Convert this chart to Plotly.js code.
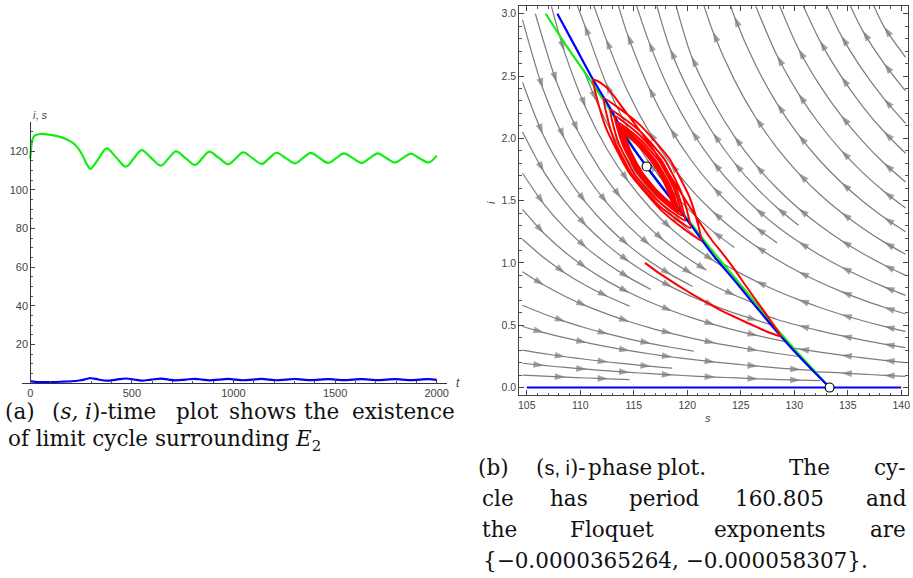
<!DOCTYPE html>
<html><head><meta charset="utf-8">
<script src="https://cdn.plot.ly/plotly-3.0.1.min.js"></script>
<style>body{margin:0;background:#fff}#chart{width:913px;height:578px}</style>
</head><body><div id="chart"></div>
<script>
// ---- panel (a): time series ----
const timeT = [0,4,10,20,48,100,150,180,210,235,255,275,290,297,336,376,423,471,510,548,595,643,680,717,764,811,846,881,928,975,1011,1048,1093,1139,1175,1212,1257,1303,1341,1380,1423,1467,1505,1544,1587,1631,1670,1710,1752,1795,1833,1872,1915,1959,2000];
const timeS = [116,121,125.5,127.8,128.8,128.3,127.2,126.0,124.2,121.5,118.2,113.8,111.3,110.7,116.0,121.4,116.6,111.9,116.2,120.5,116.4,112.4,116.1,119.8,116.3,112.8,116.2,119.7,116.4,113.1,116.2,119.3,116.3,113.3,116.2,119.1,116.3,113.6,116.3,119.0,116.4,113.8,116.3,118.8,116.3,113.8,116.3,118.8,116.4,114.0,116.3,118.6,116.3,114.0,117.6];
const timeIt = [0,25,50,100,150,200,240,270,290,300,336,376,423,471,510,548,595,643,680,717,764,811,846,881,928,975,1011,1048,1093,1139,1175,1212,1257,1303,1341,1380,1423,1467,1505,1544,1587,1631,1670,1710,1752,1795,1833,1872,1915,1959,2000];
const timeI  = [1.0,0.6,0.45,0.5,0.65,0.9,1.3,1.9,2.45,2.45,1.8,1.18,1.75,2.32,1.8,1.28,1.75,2.23,1.78,1.34,1.76,2.18,1.77,1.38,1.76,2.13,1.77,1.41,1.76,2.10,1.77,1.43,1.76,2.07,1.76,1.45,1.76,2.05,1.76,1.46,1.75,2.04,1.76,1.47,1.75,2.03,1.76,1.48,1.75,2.03,1.6];
const tTicks = [0,500,1000,1500,2000];
const yTicksA = [20,40,60,80,100,120];

// ---- panel (b): phase plot ----
const blueS = [107.86,109.5,111.2,112.8,114.33,116.2,118.5,120.5,122.39,124.5,126.5,128.76,131.0,133.3];
const blueI = [3.0,2.74,2.47,2.24,2.0,1.774,1.51,1.285,1.065,0.85,0.64,0.41,0.20,0.0];
const greenS = [106.77,108.8,110.9,112.6,114.2,116.1,118.4,120.4,122.39,124.5,126.5,128.76,131.0,133.3];
const greenI = [3.0,2.73,2.47,2.25,2.03,1.78,1.53,1.31,1.092,0.875,0.665,0.43,0.215,0.0];
const axisS = [105,140];
const axisI = [0,0];
const eqS = [116.2,133.3];
const eqI = [1.774,0.0];
const redS = [116.05,117.0,118.07,119.3,120.56,121.8,123.05,124.3,125.54,126.5,127.4,128.2,128.76,
 128.2,127.4,126.43,125.4,124.4,123.4,122.39,121.5,120.6,119.5,118.5,117.4,116.3,115.1,114.0,113.1,112.3,111.6,111.2,
 111.60,112.45,114.55,117.50,119.68,121.3,
 120.95,120.19,118.30,115.64,113.67,112.2,
 112.48,113.12,114.78,117.17,118.96,120.3,
 120.02,119.41,117.87,115.66,114.02,112.8,
 113.05,113.62,115.06,117.12,118.65,119.8,
 119.53,118.96,117.58,115.66,114.25,113.2,
 113.47,114.02,115.34,117.17,118.51,119.5,
 119.23,118.70,117.43,115.70,114.43,113.5,
 113.76,114.29,115.50,117.14,118.32,119.2,
 118.93,118.41,117.22,115.66,114.53,113.7,
 113.97,114.47,115.62,117.12,118.21,119.0,
 118.74,118.25,117.15,115.70,114.66,113.9,
 114.15,114.63,115.69,117.08,118.07,118.8,
 118.54,118.06,117.02,115.66,114.70,114.0,
 114.26,114.74,115.77,117.09,118.02,118.7,
 118.45,117.99,116.98,115.69,114.77,114.1,
 114.36,114.82,115.81,117.07,117.96,118.6,
 118.35,117.88,116.89,115.63,114.75,114.1,
 114.36,114.82,115.81,117.07];
const redI = [1.0,0.94,0.878,0.81,0.744,0.683,0.624,0.572,0.522,0.485,0.45,0.425,0.41,
 0.485,0.585,0.70,0.825,0.95,1.065,1.172,1.28,1.40,1.55,1.685,1.835,1.975,2.115,2.24,2.345,2.42,2.46,2.47,
 2.305,2.073,1.726,1.428,1.273,1.18,
 1.326,1.532,1.840,2.102,2.238,2.32,
 2.185,1.996,1.715,1.476,1.353,1.28,
 1.403,1.575,1.831,2.050,2.163,2.23,
 2.115,1.954,1.713,1.509,1.403,1.34,
 1.447,1.597,1.823,2.017,2.119,2.18,
 2.079,1.936,1.722,1.536,1.439,1.38,
 1.474,1.608,1.809,1.983,2.074,2.13,
 2.040,1.913,1.721,1.553,1.464,1.41,
 1.495,1.616,1.800,1.961,2.047,2.10,
 2.018,1.901,1.722,1.566,1.482,1.43,
 1.509,1.620,1.790,1.940,2.021,2.07,
 1.994,1.886,1.722,1.576,1.498,1.45,
 1.523,1.627,1.786,1.927,2.003,2.05,
 1.979,1.877,1.721,1.582,1.507,1.46,
 1.530,1.630,1.784,1.920,1.994,2.04,
 1.972,1.874,1.724,1.589,1.516,1.47,
 1.538,1.636,1.786,1.921,1.994,2.04,
 1.972,1.874,1.724,1.589];

// stream lines (s, i), ordered along the flow; 1 marks an arrowhead
const streamS = [
 [110.3,111.5,113.5,115.5,117.5,119.5,121.4],
 [107.3,108.5,110.5,112.5,114.5,116.5,118.5,120.5,122.5,123.4],
 [105.8,107.8,109.8,111.8,113.8,115.8,117.8,119.8,121.8],
 [104.6,106.5,108.5,110.5,112.5,114.5,116.5,118.5,120.5,122.5,124.5,126.1],
 [104.6,106.5,108.5,110.5,112.5,114.5,116.5,118.5,120.5],
 [104.6,106.6,108.6,110.6,112.6,114.6,116.6,118.6,120.6,122.6,124.6,126.6,127.8],
 [104.6,106.6,108.6,110.6,112.6,114.6,116.6],
 [104.6,106.6,108.6,110.6,112.6,114.6,116.6,118.6,120.6,122.6,124.6,126.6,128.6,129.2],
 [104.6,106.6,108.6,110.6,112.6,114.6],
 [104.6,106.6,108.6,110.6,112.6,114.6,116.6,118.6,120.6,122.6,124.6,126.6,128.6,130.6],
 [104.6,106.6,108.6,110.6,112.6,114.6,116.6,118.6,120.6],
 [104.6,106.6,108.6,110.6,112.6,114.6,116.6,118.6,120.6,122.6,124.6,126.6,128.6,130.6,131.8],
 [104.6,106.6,108.6,110.6,112.6,114.6,116.6,118.6],
 [104.6,106.6,108.6,110.6,112.6,114.6,116.6,118.6,120.6,122.6,124.6,126.6,128.6,130.6,132.4],
 [104.6,106.6,108.6,110.6,112.6,114.6],
 [140.4,138.4,136.4,134.4,132.0],
 [140.4,138.4,136.4,134.4,132.4,130.4,129.8],
 [140.4,138.4,136.4,134.4,132.4,130.4,128.4,127.1],
 [140.4,138.4,136.4,134.4,132.4,130.4,128.4,126.4,124.4,122.5],
 [124.4,122.4,120.4,118.4,116.4,114.4,112.4,110.4,109.7],
 [140.4,138.4,136.4,134.4,132.4,130.4,128.4,126.4,124.4,122.4,120.4,118.4,116.4,114.4,112.4,111.2],
 [128.4,126.4,124.4,122.4,120.4,118.4,116.4,114.4,113.5],
 [140.4,138.4,136.4,134.4,132.4,130.4,128.4,126.4,124.4,122.4,120.4,118.4,116.4,115.2],
 [130.4,128.4,126.4,124.4,122.4,120.4,118.4,117.1],
 [140.4,138.4,136.4,134.4,132.4,130.4,128.4,126.4,124.4,122.4,120.4,118.9],
 [140.4,138.4,136.4,134.4,132.4,130.4,128.4,126.4,124.4,122.4,121.5],
 [140.4,138.4,136.4,134.4,132.4,130.4,128.4,126.4,124.4,124.0],
 [140.4,138.4,136.4,134.4,132.4,130.4,128.4,126.4],
 [140.4,138.4,136.4,134.4,132.4,130.4,128.6],
 [140.4,138.4,136.4,134.4,132.4,130.8],
 [140.4,138.4,136.4,134.4,133.0],
 [140.4,138.4,136.4,135.2],
 [140.4,138.4,137.4]
];
const streamI = [
 [2.55,2.30,1.958,1.693,1.482,1.309,1.17],
 [3.06,2.70,2.248,1.912,1.652,1.445,1.275,1.134,1.015,0.965],
 [3.0,2.448,2.053,1.755,1.522,1.335,1.18,1.051,0.941],
 [2.95,2.40,2.00,1.71,1.48,1.295,1.143,1.016,0.909,0.817,0.738,0.68],
 [2.45,2.033,1.724,1.486,1.296,1.141,1.012,0.904,0.811],
 [2.05,1.731,1.487,1.294,1.137,1.007,0.897,0.804,0.723,0.653,0.591,0.537,0.505],
 [1.72,1.472,1.277,1.119,0.989,0.880,0.787],
 [1.43,1.238,1.084,0.957,0.850,0.760,0.682,0.614,0.555,0.503,0.457,0.416,0.379,0.368],
 [1.19,1.041,0.918,0.815,0.728,0.653],
 [0.93,0.822,0.731,0.653,0.587,0.528,0.477,0.433,0.393,0.357,0.326,0.297,0.271,0.247],
 [0.66,0.590,0.529,0.476,0.430,0.389,0.353,0.321,0.292],
 [0.49,0.441,0.398,0.360,0.326,0.296,0.269,0.245,0.224,0.204,0.187,0.171,0.156,0.143,0.137],
 [0.30,0.272,0.247,0.225,0.205,0.187,0.170,0.156],
 [0.195,0.177,0.161,0.147,0.134,0.122,0.111,0.101,0.092,0.084,0.077,0.070,0.064,0.059,0.055],
 [0.10,0.0915,0.0837,0.0766,0.0701,0.0641],
 [0.09,0.098,0.107,0.117,0.125],
 [0.20,0.218,0.238,0.260,0.284,0.310,0.318],
 [0.32,0.349,0.381,0.416,0.455,0.498,0.546,0.585],
 [0.45,0.491,0.536,0.586,0.642,0.705,0.775,0.854,0.942,1.035],
 [1.124,1.253,1.406,1.589,1.811,2.089,2.444,2.91,3.07],
 [0.59,0.644,0.703,0.770,0.845,0.929,1.025,1.135,1.262,1.411,1.587,1.799,2.058,2.382,2.798,3.08],
 [1.160,1.286,1.433,1.608,1.820,2.080,2.409,2.837,3.08],
 [0.74,0.808,0.883,0.967,1.062,1.170,1.293,1.437,1.607,1.811,2.061,2.374,2.778,3.08],
 [1.302,1.443,1.608,1.804,2.043,2.338,2.717,3.08],
 [0.90,0.983,1.076,1.180,1.300,1.437,1.597,1.786,2.015,2.298,2.657,3.08],
 [1.07,1.167,1.278,1.404,1.549,1.719,1.921,2.165,2.469,2.855,3.08],
 [1.25,1.365,1.495,1.645,1.820,2.027,2.277,2.586,2.977,3.08],
 [1.44,1.573,1.725,1.901,2.109,2.357,2.662,3.06],
 [1.65,1.80,1.976,2.181,2.423,2.717,3.07],
 [1.88,2.053,2.255,2.495,2.782,3.07],
 [2.12,2.316,2.547,2.822,3.07],
 [2.38,2.60,2.862,3.07],
 [2.65,2.894,3.07]
];
const streamArrow = [
 [0,1,0,1,0,1,0],
 [0,1,1,0,1,0,1,0,1,0],
 [0,1,1,0,1,0,1,0,1],
 [0,1,1,0,1,0,1,0,1,0,1,0],
 [0,1,0,1,0,1,0,1,0],
 [0,1,0,1,0,1,0,1,0,1,0,1,0],
 [0,1,0,1,0,1,0],
 [0,1,0,1,0,1,0,1,0,1,0,1,0,0],
 [0,0,1,0,1,0],
 [0,1,0,1,0,1,0,1,0,1,0,1,0,0],
 [0,0,1,0,1,0,1,0,0],
 [0,1,0,1,0,1,0,1,0,1,0,1,0,1,0],
 [0,0,1,0,1,0,1,0],
 [0,1,0,1,0,1,0,1,0,1,0,1,0,1,0],
 [0,0,1,0,1,0],
 [0,1,0,1,0],
 [0,1,0,1,0,1,0],
 [0,1,0,1,0,1,0,0],
 [0,1,0,1,0,1,0,1,0,0],
 [0,1,0,1,1,0,1,1,0],
 [0,1,0,1,0,1,0,1,0,1,0,1,1,0,1,0],
 [0,1,0,1,0,1,1,1,0],
 [0,1,0,1,0,1,0,1,0,1,1,0,1,0],
 [0,1,0,1,1,0,1,0],
 [0,1,0,1,0,1,0,1,1,0,1,0],
 [0,1,0,1,0,1,0,1,0,1,0],
 [0,1,0,1,0,1,1,0,1,0],
 [0,1,0,1,0,1,1,0],
 [0,1,0,1,0,1,0],
 [0,1,0,1,1,0],
 [0,1,0,1,0],
 [0,1,1,0],
 [0,1,0]
];

const GRAY = '#7c7c7c';
const traces = [];
for (let k = 0; k < streamS.length; k++) {
  traces.push({x: streamS[k], y: streamI[k], xaxis: 'x2', yaxis: 'y2', type: 'scatter', mode: 'lines+markers',
    line: {color: GRAY, width: 1.2, shape: 'spline', smoothing: 0.8},
    marker: {symbol: 'arrow', angleref: 'previous', size: streamArrow[k].map(f => f ? 11 : 0), color: GRAY, line: {width: 0}},
    hoverinfo: 'skip'});
}
traces.push(
  {x: timeT, y: timeS, xaxis: 'x', yaxis: 'y', mode: 'lines', line: {color: '#11ee11', width: 2.2, shape: 'spline', smoothing: 1}},
  {x: timeIt, y: timeI, xaxis: 'x', yaxis: 'y', mode: 'lines', line: {color: '#0000ff', width: 2.2, shape: 'spline', smoothing: 1}},
  {x: greenS, y: greenI, xaxis: 'x2', yaxis: 'y2', mode: 'lines', line: {color: '#11ee11', width: 2.2, shape: 'spline'}},
  {x: blueS, y: blueI, xaxis: 'x2', yaxis: 'y2', mode: 'lines', line: {color: '#0000ff', width: 2.2, shape: 'spline'}},
  {x: axisS, y: axisI, xaxis: 'x2', yaxis: 'y2', mode: 'lines', line: {color: '#0000ff', width: 2.2}},
  {x: redS, y: redI, xaxis: 'x2', yaxis: 'y2', mode: 'lines', line: {color: '#ff0000', width: 2, shape: 'spline', smoothing: 0.5}},
  {x: eqS, y: eqI, xaxis: 'x2', yaxis: 'y2', mode: 'markers', marker: {symbol: 'circle', size: 9, color: '#ffffff', line: {color: '#000', width: 1.2}}}
);

const W = 913, H = 578;
const px = v => v / W, py = v => 1 - v / H;
const tickFont = {family: 'Liberation Sans, Arial, sans-serif', size: 11, color: '#444'};
const capFont = {family: 'DejaVu Serif', size: 21.5, color: '#111'};

const ann = [];
function word(text, x, y, anchor) {
  ann.push({text: text, x: px(x), y: py(y), xref: 'paper', yref: 'paper', xanchor: anchor || 'center', yanchor: 'middle', showarrow: false, font: capFont});
}
ann.push({text: '<i>i</i>, <i>s</i>', x: px(31), y: py(107), xref: 'paper', yref: 'paper', showarrow: false, font: {family: 'Liberation Sans, Arial', size: 11, color: '#444'}});
ann.push({text: '<i>t</i>', x: px(458), y: py(383), xref: 'paper', yref: 'paper', showarrow: false, font: {family: 'Liberation Sans, Arial', size: 12, color: '#444'}});
ann.push({text: '<i>s</i>', x: px(713), y: py(426), xref: 'paper', yref: 'paper', showarrow: false, font: {family: 'Liberation Sans, Arial', size: 11, color: '#444'}});
ann.push({text: '<i>i</i>', x: px(491), y: py(202), xref: 'paper', yref: 'paper', showarrow: false, textangle: -90, font: {family: 'Liberation Sans, Arial', size: 11, color: '#444'}});
// caption (a): first line justified, last line natural
word('(a)', 20, 411); word('(<i>s, i</i>)-time', 104, 411); word('plot', 197, 411); word('shows', 262, 411); word('the', 321, 411); word('existence', 403, 411);
word('of limit cycle surrounding <i>E</i><sub>2</sub>', 6, 440, 'left');
// caption (b): justified lines, last line natural
const sf = s => '<span style="font-family:Liberation Sans, Arial;font-size:20px">' + s + '</span>';
word('(b)', 493, 467); word('(' + sf('s, i') + ')-', 561, 467); word('phase', 620, 467); word('plot.', 681, 467); word('The', 809, 467); word('cy-', 889, 467);
word('cle', 498, 498); word('has', 569, 498); word('period', 664, 498); word('160.805', 779, 498); word('and', 886, 498);
word('the', 499, 529); word('Floquet', 612, 529); word('exponents', 770, 529); word('are', 888, 529);
word('{\u22120.0000365264, \u22120.000058307}.', 481, 560, 'left');

const layout = {
  width: W, height: H, margin: {l: 0, r: 0, t: 0, b: 0}, showlegend: false,
  paper_bgcolor: '#fff', plot_bgcolor: 'rgba(0,0,0,0)',
  xaxis: {domain: [px(21.7), px(446.7)], range: [-42, 2049], anchor: 'y', tickvals: tTicks, ticks: 'inside', ticklen: 4,
    tickcolor: '#444', showline: true, linecolor: '#333', linewidth: 1, showgrid: false, zeroline: false, tickfont: tickFont,
    minor: {tickmode: 'linear', tick0: 0, dtick: 100, ticks: 'inside', ticklen: 2, tickcolor: '#555', showgrid: false}},
  yaxis: {domain: [py(383), py(122)], range: [0, 135], anchor: 'free', position: px(30.3), tickvals: yTicksA, ticks: 'inside', ticklen: 4,
    tickcolor: '#444', showline: true, linecolor: '#333', linewidth: 1, showgrid: false, zeroline: false, tickfont: tickFont,
    minor: {tickmode: 'linear', tick0: 0, dtick: 5, ticks: 'inside', ticklen: 2, tickcolor: '#555', showgrid: false}},
  xaxis2: {domain: [px(519.3), px(907.7)], range: [104.3, 140.6], anchor: 'y2', tick0: 105, dtick: 5, ticks: 'inside', ticklen: 5,
    tickcolor: '#444', showline: true, mirror: 'allticks', linecolor: '#444', linewidth: 1, showgrid: false, zeroline: false,
    tickfont: {family: 'Liberation Sans, Arial', size: 10.5, color: '#444'},
    minor: {tickmode: 'linear', tick0: 105, dtick: 1, ticks: 'inside', ticklen: 2.5, tickcolor: '#555', showgrid: false}},
  yaxis2: {domain: [py(395), py(6)], range: [-0.06, 3.062], anchor: 'x2', tick0: 0, dtick: 0.5, tickformat: '.1f', ticks: 'inside', ticklen: 5,
    tickcolor: '#444', showline: true, mirror: 'allticks', linecolor: '#444', linewidth: 1, showgrid: false, zeroline: false,
    tickfont: {family: 'Liberation Sans, Arial', size: 10.5, color: '#444'},
    minor: {tickmode: 'linear', tick0: 0, dtick: 0.1, ticks: 'inside', ticklen: 2.5, tickcolor: '#555', showgrid: false}},
  annotations: ann
};
Plotly.newPlot('chart', traces, layout, {staticPlot: true});
</script></body></html>
